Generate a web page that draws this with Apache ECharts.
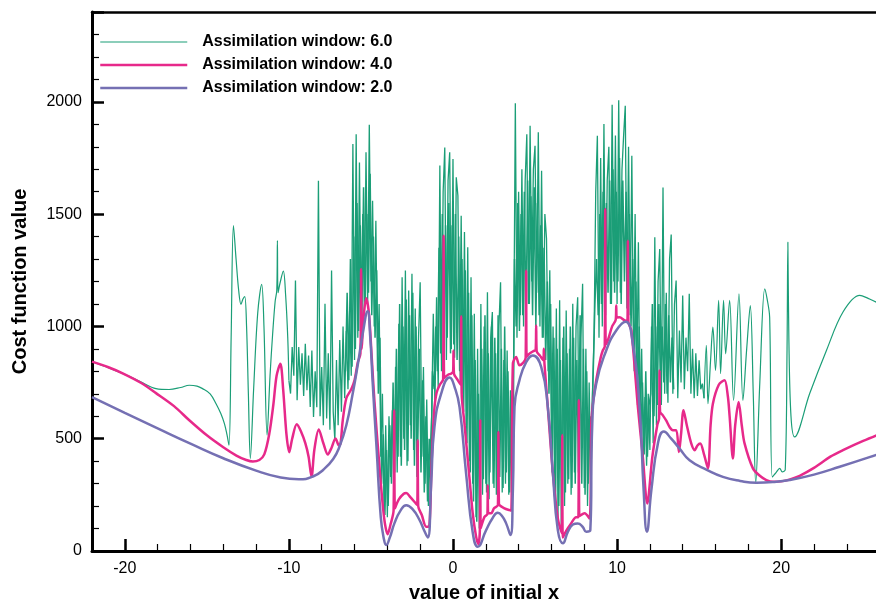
<!DOCTYPE html>
<html>
<head>
<meta charset="utf-8">
<script src="https://cdn.jsdelivr.net/npm/echarts@6/dist/echarts.min.js"></script>
<style>
  html, body { margin: 0; padding: 0; background: #ffffff; }
  #chart { width: 876px; height: 601px; }
</style>
</head>
<body>
<div id="chart"></div>
<script>
// Legend names, one per assimilation window length
const seriesNames = ['Assimilation window: 6.0', 'Assimilation window: 4.0', 'Assimilation window: 2.0'];

// Labelled ticks
const xTickLabels = [-20, -10, 0, 10, 20];
const yTickLabels = [0, 500, 1000, 1500, 2000];

// Window 6.0: smooth left part, noisy middle (two interleaved samplings), smooth right part  [x, cost]
const greenLeft = [[-22,843],[-21,816],[-20.1,790],[-19,752],[-18.1,723],[-17.3,719],[-16.6,728],[-16.07,738],[-15.6,734],[-15.26,723],[-14.8,700],[-14.44,656],[-14.15,612],[-13.93,567],[-13.78,520],[-13.65,471],[-13.52,950],[-13.38,1449],[-13.22,1300],[-13.06,1160],[-12.92,1098],[-12.8,1122],[-12.69,1133],[-12.58,1000],[-12.47,700],[-12.35,412],[-12.15,720],[-11.9,1060],[-11.66,1187],[-11.52,1000],[-11.33,516],[-11.15,780],[-10.99,967],[-10.84,1110],[-10.74,1160],[-10.7,1382],[-10.66,1150],[-10.55,1190],[-10.34,1246],[-10.2,1140],[-10.07,950],[-10.0,760]];

const greenMiddle = [
[-10.0,760],[-9.9,701],[-9.8,908],[-9.7,780],[-9.6,1204],[-9.5,671],[-9.4,908],[-9.3,740],[-9.2,880],[-9.1,690],
[-9.0,923],[-8.9,716],[-8.8,870],[-8.7,641],[-8.6,893],[-8.5,597],[-8.4,800],[-8.3,640],[-8.2,1649],[-8.1,600],
[-8.0,819],[-7.9,560],[-7.8,1101],[-7.7,590],[-7.6,880],[-7.5,540],[-7.4,1249],[-7.3,620],[-7.2,493],[-7.1,850],
[-7.0,560],[-6.9,940],[-6.8,620],[-6.7,1000],[-6.6,680],[-6.5,980],[-6.4,720],[-6.3,1071],[-6.2,780],[-6.1,1812],
[-6.0,850],[-5.9,1856],[-5.8,950],[-5.7,1730],[-5.6,1000],[-5.5,1500],[-5.4,1050],[-5.3,1775],[-5.2,1100],[-5.1,1898],
[-5.0,1200],[-4.9,1560],[-4.8,1000],[-4.7,1471],[-4.6,800],[-4.5,1100],[-4.4,420],[-4.3,700],[-4.2,180],[-4.1,560],
[-4.0,150],[-3.9,600],[-3.8,330],[-3.7,627],[-3.6,280],[-3.5,820],[-3.4,350],[-3.3,1012],[-3.2,420],[-3.1,1219],
[-3.0,500],[-2.9,1249],[-2.8,380],[-2.7,1160],[-2.6,560],[-2.5,1234],[-2.4,450],[-2.3,1080],[-2.2,330],[-2.1,950],
[-2.0,1197],[-1.9,420],[-1.8,819],[-1.7,300],[-1.6,675],[-1.5,200],[-1.4,420],[-1.3,600],[-1.2,1056],[-1.1,650],
[-1.0,1130],[-0.9,720],[-0.8,1716],[-0.7,800],[-0.6,1600],[-0.5,1797],[-0.4,850],[-0.3,1650],[-0.2,1775],[-0.1,900],
[0.0,1745],[0.1,860],[0.2,1664],[0.3,1582],[0.4,800],[0.5,1493],[0.6,700],[0.7,1420],[0.8,560],[0.9,1352],
[1.0,400],[1.1,1219],[1.2,300],[1.3,1056],[1.4,150],[1.5,900],[1.6,100],[1.7,1100],[1.8,250],[1.9,1000],
[2.0,300],[2.1,1152],[2.2,230],[2.3,950],[2.4,1064],[2.5,280],[2.6,880],[2.7,350],[2.8,1000],[2.9,1197],
[3.0,260],[3.1,850],[3.2,300],[3.3,893],[3.4,250],[3.5,716],[3.6,200],[3.7,900],[3.8,1994],[3.9,950],
[4.0,1600],[4.1,1050],[4.2,1700],[4.3,1000],[4.4,1650],[4.5,1856],[4.6,1100],[4.7,1893],[4.8,1200],[4.9,1700],
[5.0,1804],[5.1,1150],[5.2,1864],[5.3,1000],[5.4,1693],[5.5,950],[5.6,1500],[5.7,1390],[5.8,800],[5.9,1250],
[6.0,500],[6.1,1000],[6.2,300],[6.3,1080],[6.4,150],[6.5,1116],[6.6,100],[6.7,950],[6.8,200],[6.9,1071],
[7.0,300],[7.1,900],[7.2,250],[7.3,1101],[7.4,350],[7.5,1000],[7.6,1130],[7.7,300],[7.8,950],[7.9,1190],
[8.0,280],[8.1,900],[8.2,200],[8.3,750],[8.4,250],[8.5,700],[8.6,967],[8.7,1600],[8.8,1849],[8.9,950],
[9.0,1750],[9.1,1000],[9.2,1901],[9.3,1050],[9.4,1650],[9.5,1800],[9.6,1100],[9.7,1987],[9.8,1200],[9.9,1850],
[10.0,1100],[10.1,2007],[10.2,1150],[10.3,1700],[10.4,1850],[10.5,1982],[10.6,1080],[10.7,1800],[10.8,1050],[10.9,1760],
[11.0,900],[11.1,1500],[11.2,700],[11.3,1375],[11.4,550],[11.5,900],[11.6,420],[11.7,686],[11.8,380],[11.9,700],
[12.0,450],[12.1,1000],[12.2,480],[12.3,1397],[12.4,560],[12.5,1200],[12.6,1345],[12.7,650],[12.8,1619],[12.9,700],
[13.0,1150],[13.1,660],[13.2,1300],[13.3,1409],[13.4,700],[13.5,1100],[13.6,1204],[13.7,680],[13.8,982],[13.9,750],
[14.0,1138],[14.1,720],[14.2,950],[14.3,800],[14.4,1145],[14.5,700],[14.6,900],[14.7,680],[14.8,880],[14.9,690],
[15.0,849],[15.1,720],[15.2,745],[15.3,680]
];

const greenMiddleB = [
[-6.55,800],[-6.45,1150],[-6.35,760],[-6.25,1300],[-6.15,820],[-6.05,1400],[-5.95,900],[-5.85,1550],[-5.75,980],[-5.65,1450],
[-5.55,1050],[-5.45,1620],[-5.35,1100],[-5.25,1500],[-5.15,1150],[-5.05,1680],[-4.95,1050],[-4.85,1400],[-4.75,950],[-4.65,1250],
[-4.55,700],[-4.45,950],[-4.35,300],[-4.25,520],[-4.15,160],[-4.05,450],[-3.95,200],[-3.85,560],[-3.75,300],[-3.65,750],
[-3.55,350],[-3.45,900],[-3.35,420],[-3.25,1100],[-3.15,380],[-3.05,1000],[-2.95,450],[-2.85,1120],[-2.75,400],[-2.65,1050],
[-2.55,500],[-2.45,1150],[-2.35,380],[-2.25,1000],[-2.15,450],[-2.05,900],[-1.95,350],[-1.85,760],[-1.75,260],[-1.65,600],
[-1.55,220],[-1.45,500],[-1.35,350],[-1.25,800],[-1.15,720],[-1.05,1000],[-0.95,800],[-0.85,1350],[-0.75,880],[-0.65,1500],
[-0.55,900],[-0.45,1450],[-0.35,950],[-0.25,1550],[-0.15,880],[-0.05,1450],[0.05,920],[0.15,1500],[0.25,850],[0.35,1400],
[0.45,760],[0.55,1300],[0.65,620],[0.75,1250],[0.85,480],[0.95,1150],[1.05,350],[1.15,1050],[1.25,220],[1.35,850],
[1.45,130],[1.55,700],[1.65,200],[1.75,900],[1.85,320],[1.95,1050],[2.05,260],[2.15,880],[2.25,350],[2.35,1000],
[2.45,300],[2.55,950],[2.65,250],[2.75,1050],[2.85,330],[2.95,900],[3.05,280],[3.15,1000],[3.25,350],[3.35,800],
[3.45,260],[3.55,600],[3.65,300],[3.75,1300],[3.85,1000],[3.95,1550],[4.05,980],[4.15,1500],[4.25,1050],[4.35,1600],
[4.45,1000],[4.55,1650],[4.65,1100],[4.75,1580],[4.85,1050],[4.95,1620],[5.05,1000],[5.15,1550],[5.25,1050],[5.35,1450],
[5.45,950],[5.55,1350],[5.65,850],[5.75,1200],[5.85,700],[5.95,1100],[6.05,350],[6.15,950],[6.25,220],[6.35,900],
[6.45,200],[6.55,850],[6.65,150],[6.75,1000],[6.85,260],[6.95,880],[7.05,320],[7.15,1000],[7.25,280],[7.35,950],
[7.45,300],[7.55,850],[7.65,350],[7.75,1050],[7.85,300],[7.95,900],[8.05,250],[8.15,800],[8.25,300],[8.35,600],
[8.45,550],[8.55,800],[8.65,1100],[8.75,1300],[8.85,1050],[8.95,1500],[9.05,1100],[9.15,1600],[9.25,1050],[9.35,1550],
[9.45,1150],[9.55,1650],[9.65,1100],[9.75,1700],[9.85,1150],[9.95,1600],[10.05,1200],[10.15,1750],[10.25,1100],[10.35,1650],
[10.45,1200],[10.55,1600],[10.65,1100],[10.75,1500],[10.85,1000],[10.95,1300],[11.05,800],[11.15,1200],[11.25,650],[11.35,1000],
[11.45,500],[11.55,750],[11.65,430],[11.75,800],[11.85,420],[11.95,650],[12.05,700],[12.15,1100],[12.25,600],[12.35,1000],
[12.45,650],[12.55,1100],[12.65,700],[12.75,1000],[12.85,750],[12.95,1100],[13.05,700],[13.15,1050],[13.25,750],[13.35,950],
[13.45,720]
];

const greenRight = [[15.3,680],[15.44,916],[15.54,656],[15.7,850],[15.84,997],[16.0,804],[16.19,1116],[16.31,790],[16.49,1116],[16.62,878],[16.86,1116],[17.1,671],[17.43,1145],[17.67,671],[17.9,900],[18.12,1093],[18.3,700],[18.45,301],[18.7,750],[19.0,1167],[19.15,1120],[19.3,1041],[19.46,330],[19.7,350],[19.91,368],[20.07,352],[20.25,362],[20.36,900],[20.41,1375],[20.47,950],[20.6,600],[20.82,508],[21.74,701],[22.76,893],[23.77,1064],[24.79,1138],[25.3,1125],[25.8,1108],[27,1070]];

// Window 4.0  [x, cost]
const pinkData = [[-22,843],[-21,818],[-20.1,790],[-19,748],[-18.1,703],[-17,645],[-16.07,582],[-15,515],[-14,462],[-13.2,425],[-12.6,405],[-12.2,398],[-11.8,405],[-11.5,430],[-11.2,520],[-10.95,650],[-10.75,780],[-10.52,834],[-10.35,720],[-10.15,520],[-9.98,440],[-9.8,500],[-9.52,564],[-9.25,530],[-9.0,480],[-8.8,420],[-8.62,330],[-8.45,450],[-8.18,541],[-7.9,480],[-7.63,430],[-7.4,460],[-7.16,501],[-6.95,470],[-6.85,480],[-6.72,580],[-6.5,680],[-6.2,720],[-6.0,760],[-5.8,840],[-5.64,880],[-5.6,1256],[-5.56,900],[-5.45,1040],[-5.29,1125],[-5.12,1056],[-4.95,860],[-4.79,671],[-4.48,375],[-4.2,150],[-3.98,75],[-3.8,120],[-3.62,180],[-3.58,627],[-3.54,190],[-3.3,230],[-3.0,255],[-2.85,258],[-2.6,240],[-2.3,215],[-2.18,205],[-2.15,493],[-2.12,200],[-1.9,160],[-1.63,108],[-1.45,110],[-1.3,400],[-1.15,620],[-1.0,705],[-0.8,740],[-0.6,765],[-0.57,1404],[-0.54,770],[-0.3,785],[-0.1,790],[0.01,800],[0.03,893],[0.06,790],[0.3,760],[0.47,740],[0.5,1045],[0.53,700],[0.7,567],[1.0,330],[1.2,170],[1.41,64],[1.55,30],[1.64,100],[1.66,582],[1.68,100],[1.92,152],[2.1,165],[2.12,293],[2.14,170],[2.33,168],[2.5,190],[2.74,205],[2.77,530],[2.8,210],[3.14,190],[3.45,182],[3.55,180],[3.65,834],[3.85,864],[4.05,827],[4.3,840],[4.43,860],[4.46,1249],[4.49,865],[4.66,879],[4.9,890],[5.04,895],[5.07,1004],[5.1,890],[5.3,870],[5.5,850],[5.54,901],[5.58,830],[5.78,641],[6.09,345],[6.4,140],[6.63,80],[6.66,516],[6.69,60],[6.9,90],[7.2,123],[7.5,150],[7.64,150],[7.67,671],[7.7,155],[8.02,168],[8.32,145],[8.43,567],[8.53,656],[8.73,760],[9.0,860],[9.13,893],[9.25,910],[9.28,1523],[9.31,920],[9.44,938],[9.7,1000],[9.92,1030],[9.95,1093],[9.98,1040],[10.15,1041],[10.46,1027],[10.63,1025],[10.66,1382],[10.69,1020],[10.87,982],[11.27,641],[11.57,419],[11.84,212],[12.15,419],[12.45,560],[12.56,590],[12.59,804],[12.62,620],[12.79,604],[13.0,580],[13.2,552],[13.4,538],[13.61,538],[13.77,441],[13.9,520],[14.05,627],[14.25,560],[14.52,479],[14.73,449],[14.9,470],[15.07,479],[15.3,430],[15.54,368],[15.7,560],[15.84,656],[16.2,740],[16.55,760],[16.75,690],[16.86,600],[17.06,412],[17.2,560],[17.41,664],[17.6,560],[17.77,479],[18.28,368],[18.7,335],[19.1,316],[19.5,308],[20.0,310],[20.5,318],[21.13,335],[22,370],[23,420],[23.77,449],[25,490],[27,550]];

// Window 2.0  [x, cost]
const purpleData = [[-22,685],[-20,615],[-18,546],[-16,478],[-14,413],[-12,358],[-10.5,327],[-9.4,319],[-8.5,333],[-7.9,362],[-7.3,410],[-6.92,464],[-6.5,560],[-6.11,701],[-5.8,830],[-5.5,967],[-5.2,1068],[-5.05,960],[-4.89,745],[-4.65,450],[-4.4,150],[-4.2,50],[-4.07,27],[-3.85,60],[-3.57,123],[-3.2,180],[-2.85,204],[-2.45,185],[-2.04,138],[-1.75,90],[-1.54,60],[-1.33,300],[-1.13,552],[-0.72,701],[-0.21,772],[0.1,730],[0.4,641],[0.8,345],[1.21,79],[1.51,19],[2.02,93],[2.4,145],[2.73,170],[3.0,155],[3.24,123],[3.5,71],[3.65,271],[3.75,641],[4.05,760],[4.46,841],[4.87,871],[5.38,819],[5.78,641],[6.09,345],[6.39,93],[6.7,34],[7.0,85],[7.31,118],[7.6,123],[7.9,108],[8.12,86],[8.37,93],[8.49,567],[8.73,745],[9.34,893],[9.95,982],[10.52,1021],[10.96,923],[11.37,641],[11.62,271],[11.82,86],[12.09,271],[12.49,479],[12.85,532],[13.3,500],[13.81,456],[14.42,404],[15.5,360],[16.45,330],[17.5,312],[18.49,304],[19.5,307],[20.52,316],[22,340],[23.57,375],[25.8,428],[27,458]];

const FONT = '"Liberation Sans", Arial, Helvetica, sans-serif';
const GREEN = '#1b9e77', PINK = '#e7298a', PURPLE = '#7570b3';
const X_MIN = -22, X_MAX = 27, Y_MIN = 0, Y_MAX = 2400;

const chart = echarts.init(document.getElementById('chart'), null, { renderer: 'canvas' });

const baseX = { type: 'value', min: X_MIN, max: X_MAX, splitLine: { show: false } };
const baseY = { type: 'value', min: Y_MIN, max: Y_MAX, splitLine: { show: false } };

function lineSeries(name, data, color, width, smooth) {
  return {
    type: 'line', name: name, data: data, showSymbol: false, symbol: 'none',
    smooth: smooth, clip: true, animation: false,
    lineStyle: { color: color, width: width }, itemStyle: { color: color },
    emphasis: { disabled: true }
  };
}

chart.setOption({
  animation: false,
  backgroundColor: '#ffffff',
  textStyle: { fontFamily: FONT },
  // the plot area runs past the right edge of the canvas
  grid: { left: 92, top: 12, width: 804, height: 539, containLabel: false, outerBoundsMode: 'none' },
  legend: {
    data: seriesNames, orient: 'vertical', left: 99, top: 34, padding: 0,
    itemWidth: 87, itemHeight: 14, itemGap: 7, selectedMode: false,
    // legend keys are plain lines: hide the marker drawn in the middle of each key
    itemStyle: { opacity: 0 },
    lineStyle: { width: 'inherit' },
    textStyle: { fontFamily: FONT, fontWeight: 'bold', fontSize: 16, color: '#000', padding: [0, 0, 0, 10] }
  },
  xAxis: [
    Object.assign({}, baseX, {
      position: 'bottom', interval: 2,
      axisLine: { show: true, onZero: false, lineStyle: { color: '#000', width: 3 } },
      axisTick: { show: true, inside: true, length: 7, lineStyle: { color: '#000', width: 1.2 } },
      axisLabel: { show: false }
    }),
    Object.assign({}, baseX, {
      position: 'bottom',
      axisLine: { show: false, onZero: false },
      axisTick: { show: true, inside: true, length: 12, lineStyle: { color: '#000', width: 2.5 } },
      axisLabel: {
        show: true, margin: 10, fontFamily: FONT, fontSize: 16, color: '#000',
        formatter: v => (xTickLabels.includes(v) ? String(v) : '')
      },
      name: 'value of initial x', nameLocation: 'middle', nameGap: 32,
      // centred on the visible part of the axis
      nameTextStyle: { fontFamily: FONT, fontWeight: 'bold', fontSize: 20, color: '#000', padding: [0, 20, 0, 0] }
    }),
    Object.assign({}, baseX, {
      position: 'top',
      axisLine: { show: true, onZero: false, lineStyle: { color: '#000', width: 2.5 } },
      axisTick: { show: false }, axisLabel: { show: false }
    })
  ],
  yAxis: [
    Object.assign({}, baseY, {
      position: 'left', interval: 100,
      axisLine: { show: true, onZero: false, lineStyle: { color: '#000', width: 3 } },
      axisTick: { show: true, inside: true, length: 7, lineStyle: { color: '#000', width: 1.2 } },
      axisLabel: { show: false }
    }),
    Object.assign({}, baseY, {
      position: 'left', interval: 500,
      axisLine: { show: false, onZero: false },
      axisTick: { show: true, inside: true, length: 12, lineStyle: { color: '#000', width: 2.5 } },
      axisLabel: {
        show: true, margin: 10, fontFamily: FONT, fontSize: 16, color: '#000',
        formatter: v => (yTickLabels.includes(v) ? String(v) : '')
      },
      name: 'Cost function value', nameLocation: 'middle', nameGap: 62,
      nameTextStyle: { fontFamily: FONT, fontWeight: 'bold', fontSize: 20, color: '#000' }
    })
  ],
  series: [
    lineSeries(seriesNames[0], greenLeft, GREEN, 1.2, 0.35),
    lineSeries(seriesNames[0], greenMiddle, GREEN, 1.3, false),
    lineSeries(seriesNames[0], greenMiddleB, GREEN, 1.5, false),
    lineSeries(seriesNames[0], greenRight, GREEN, 1.2, 0.35),
    lineSeries(seriesNames[1], pinkData, PINK, 2.5, 0.3),
    lineSeries(seriesNames[2], purpleData, PURPLE, 2.5, 0.5)
  ]
});
</script>
</body>
</html>
